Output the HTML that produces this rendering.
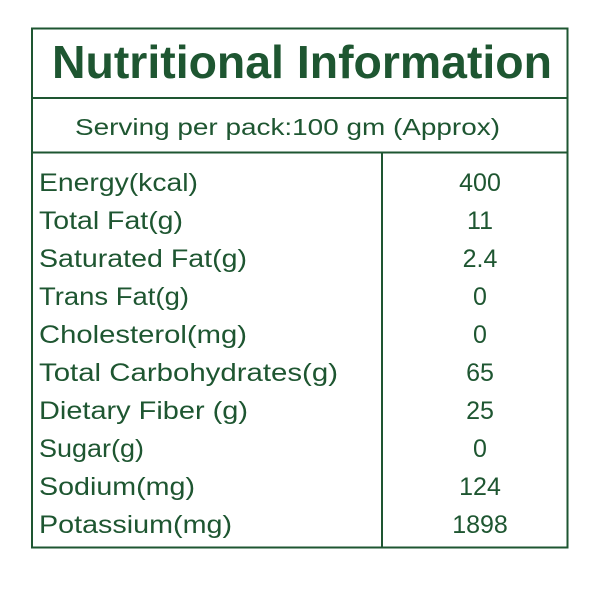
<!DOCTYPE html>
<html><head><meta charset="utf-8"><style>
html,body{margin:0;padding:0;background:#fff;}
svg{display:block;}
text{font-family:"Liberation Sans",sans-serif;fill:#1e5631;}
</style></head><body>
<svg width="600" height="600" viewBox="0 0 600 600">
<rect x="32" y="28.5" width="535.5" height="519" fill="none" stroke="#1e5631" stroke-width="2"/>
<line x1="32" y1="98" x2="568" y2="98" stroke="#1e5631" stroke-width="2"/>
<line x1="32" y1="152.5" x2="568" y2="152.5" stroke="#1e5631" stroke-width="2"/>
<line x1="382" y1="152.5" x2="382" y2="548" stroke="#1e5631" stroke-width="2"/>
<text x="52" y="78" font-size="46" font-weight="bold" textLength="500" lengthAdjust="spacingAndGlyphs">Nutritional Information</text>
<text x="75" y="135" font-size="23" textLength="425" lengthAdjust="spacingAndGlyphs">Serving per pack:100 gm (Approx)</text>
<g font-size="25">
<text x="39" y="191" textLength="159" lengthAdjust="spacingAndGlyphs">Energy(kcal)</text>
<text x="39" y="229" textLength="144" lengthAdjust="spacingAndGlyphs">Total Fat(g)</text>
<text x="39" y="267" textLength="208" lengthAdjust="spacingAndGlyphs">Saturated Fat(g)</text>
<text x="39" y="305" textLength="150" lengthAdjust="spacingAndGlyphs">Trans Fat(g)</text>
<text x="39" y="343" textLength="208" lengthAdjust="spacingAndGlyphs">Cholesterol(mg)</text>
<text x="39" y="381" textLength="299" lengthAdjust="spacingAndGlyphs">Total Carbohydrates(g)</text>
<text x="39" y="419" textLength="209" lengthAdjust="spacingAndGlyphs">Dietary Fiber (g)</text>
<text x="39" y="457" textLength="105" lengthAdjust="spacingAndGlyphs">Sugar(g)</text>
<text x="39" y="495" textLength="156" lengthAdjust="spacingAndGlyphs">Sodium(mg)</text>
<text x="39" y="533" textLength="193" lengthAdjust="spacingAndGlyphs">Potassium(mg)</text>
</g>
<g font-size="25" text-anchor="middle">
<text x="480" y="191">400</text>
<text x="480" y="229">11</text>
<text x="480" y="267">2.4</text>
<text x="480" y="305">0</text>
<text x="480" y="343">0</text>
<text x="480" y="381">65</text>
<text x="480" y="419">25</text>
<text x="480" y="457">0</text>
<text x="480" y="495">124</text>
<text x="480" y="533">1898</text>
</g>
</svg>
</body></html>
